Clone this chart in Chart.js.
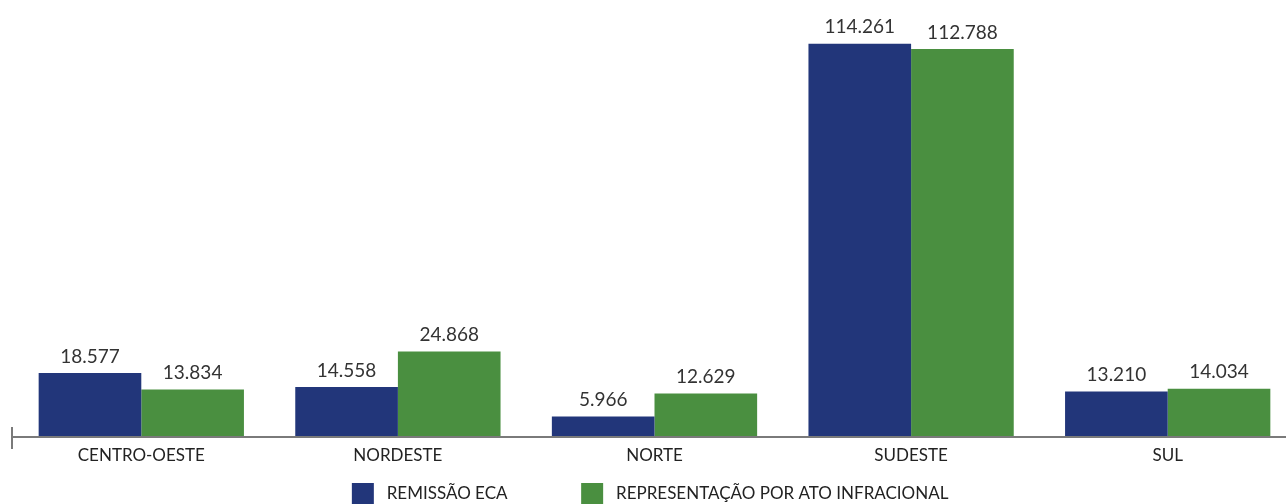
<!DOCTYPE html>
<html>
<head>
<meta charset="utf-8">
<script src="https://cdn.jsdelivr.net/npm/chart.js@4/dist/chart.umd.min.js"></script>
<style>
  html, body { margin: 0; padding: 0; background: #fff; overflow: hidden; }
  #wrap { width: 1300px; height: 515px; position: relative; }
</style>
</head>
<body>
<div id="wrap"><canvas id="chart"></canvas></div>
<script>
const regions = ['CENTRO-OESTE', 'NORDESTE', 'NORTE', 'SUDESTE', 'SUL'];
const remissao = [18577, 14558, 5966, 114261, 13210];
const representacao = [13834, 24868, 12629, 112788, 14034];
const seriesNames = ['REMISSÃO ECA', 'REPRESENTAÇÃO POR ATO INFRACIONAL'];

const fmt = (v) => v.toString().replace(/\B(?=(\d{3})+(?!\d))/g, '.');

// values above each bar
const valueLabels = {
  id: 'valueLabels',
  afterDatasetsDraw(chart) {
    const ctx = chart.ctx;
    ctx.save();
    ctx.font = '19px Lato, sans-serif';
    ctx.fillStyle = '#333';
    ctx.textAlign = 'center';
    ctx.textBaseline = 'bottom';
    chart.data.datasets.forEach((ds, i) => {
      chart.getDatasetMeta(i).data.forEach((bar, j) => {
        ctx.fillText(fmt(ds.data[j]), bar.x, bar.y - 7);
      });
    });
    ctx.restore();
  },
};

// baseline with small tick at the left end
const baseline = {
  id: 'baseline',
  afterDatasetsDraw(chart) {
    const { ctx, chartArea } = chart;
    ctx.save();
    ctx.strokeStyle = '#7a7a7a';
    ctx.lineWidth = 2;
    ctx.beginPath();
    ctx.moveTo(chartArea.left - 1, chartArea.bottom);
    ctx.lineTo(chart.width, chartArea.bottom);
    ctx.stroke();
    ctx.beginPath();
    ctx.moveTo(chartArea.left - 1, chartArea.bottom - 10);
    ctx.lineTo(chartArea.left - 1, chartArea.bottom + 12);
    ctx.stroke();
    ctx.restore();
  },
};

new Chart(document.getElementById('chart'), {
  type: 'bar',
  data: {
    labels: regions,
    datasets: [
      { label: seriesNames[0], data: remissao, backgroundColor: '#22367a' },
      { label: seriesNames[1], data: representacao, backgroundColor: '#4a8f40' },
    ],
  },
  options: {
    responsive: true,
    maintainAspectRatio: false,
    animation: false,
    categoryPercentage: 0.8,
    barPercentage: 1.0,
    layout: { padding: { left: 13, right: 4, top: 10, bottom: 0 } },
    scales: {
      x: {
        grid: { display: false },
        border: { display: false },
        ticks: { color: '#222', font: { family: 'Lato', size: 17 }, padding: 0 },
        afterFit: (scale) => { scale.height = 42; },
      },
      y: {
        display: false,
        min: 0,
        max: 124100,
      },
    },
    plugins: {
      legend: {
        position: 'bottom',
        labels: {
          boxWidth: 22,
          boxHeight: 22,
          padding: 4,
          color: '#222',
          font: { family: 'Lato', size: 17 },
          // leading space widens the box/text gap, trailing spaces separate the items
          generateLabels: (chart) =>
            Chart.defaults.plugins.legend.labels.generateLabels(chart)
              .map((item, i) => ({ ...item, text: ' ' + item.text + ' '.repeat(i === 0 ? 16 : 2) })),
        },
      },
      tooltip: { enabled: false },
    },
  },
  plugins: [valueLabels, baseline],
});
</script>
</body>
</html>
